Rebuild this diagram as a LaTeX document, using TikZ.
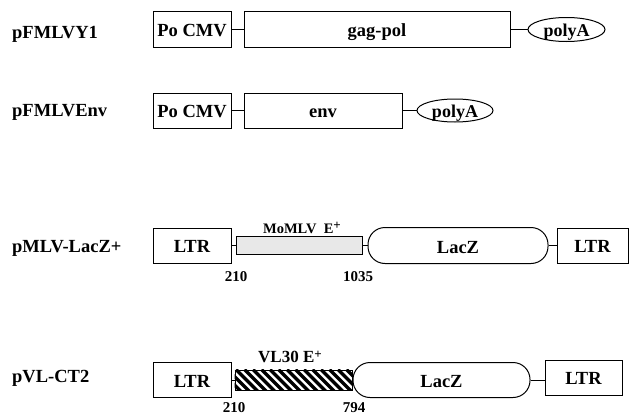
\documentclass[tikz,border=0pt]{standalone}
\usepackage{fontspec}
\setmainfont{Liberation Serif}
\usepackage{tikz}
\usetikzlibrary{shapes.geometric,calc}

\newcommand{\eplus}{E\raisebox{0.5ex}{\fontsize{13}{14}\selectfont+}}

\begin{document}
\begin{tikzpicture}[x=1pt, y=-1pt,
  gbox/.style={draw, line width=1pt, inner sep=0pt, text height=14pt, text depth=0pt,
               font=\fontsize{18.5}{20}\selectfont\bfseries},
  pbox/.style={draw, ellipse, line width=1pt, inner sep=0pt, text height=13pt, text depth=0pt,
               font=\fontsize{18}{20}\selectfont\bfseries},
  lbox/.style={draw, line width=1pt, inner sep=0pt, rounded corners=17pt,
               text height=15pt, text depth=0pt,
               font=\fontsize{18.5}{20}\selectfont\bfseries},
  ebox/.style={draw, line width=1pt, inner sep=0pt},
  lab/.style={anchor=west, inner sep=0pt, font=\fontsize{18.5}{20}\selectfont\bfseries},
  num/.style={inner sep=0pt, font=\fontsize{15}{16}\selectfont\bfseries},
  conn/.style={line width=1pt}
]
\useasboundingbox (0,0) rectangle (629,415);

% pFMLVY1
\node[lab] (lab1) at (12,34) {pFMLVY1};
\node[gbox, minimum width=78pt, minimum height=36pt] (cmv1) at (192,29.5) {Po CMV};
\node[gbox, minimum width=266pt, minimum height=36pt] (gag) at (377,29.5) {gag-pol};
\node[pbox, minimum width=77pt, minimum height=24pt] (pA1) at (566.5,29.5) {polyA};
\draw[conn] (cmv1.east) -- (gag.west);
\draw[conn] (gag.east) -- (pA1.west);

% pFMLVEnv
\node[lab] (lab2) at (12,112) {pFMLVEnv};
\node[gbox, minimum width=78pt, minimum height=35pt] (cmv2) at (192,110.5) {Po CMV};
\node[gbox, minimum width=158pt, minimum height=35pt] (env) at (323,110.5) {env};
\node[pbox, minimum width=76pt, minimum height=23pt] (pA2) at (455,110.5) {polyA};
\draw[conn] (cmv2.east) -- (env.west);
\draw[conn] (env.east) -- (pA2.west);

% pMLV-LacZ+
\node[lab] (lab3) at (12,248) {pMLV-LacZ+};
\node[gbox, minimum width=78pt, minimum height=35pt] (ltr3a) at (192,245.5) {LTR};
\node[ebox, fill=black!9, minimum width=126pt, minimum height=18pt] (mo) at (299,245.5) {};
\node[lbox, minimum width=180pt, minimum height=36pt] (lacz3) at (458,245.5) {LacZ};
\node[gbox, minimum width=71pt, minimum height=35pt] (ltr3b) at (592.5,245.5) {LTR};
\draw[conn] (ltr3a.east) -- (mo.west);
\draw[conn] (mo.east) -- (lacz3.west);
\draw[conn] (lacz3.east) -- (ltr3b.west);
\node[num, font=\fontsize{14.5}{16}\selectfont\bfseries] (moname) at (302,228)
  {MoMLV\ \ \eplus};
\node[num] (mo210) at (236,277) {210};
\node[num] (mo1035) at (358,277) {1035};

% pVL-CT2
\node[lab] (lab4) at (12,378) {pVL-CT2};
\node[gbox, minimum width=78pt, minimum height=35pt] (ltr4a) at (192,380) {LTR};
\node[ebox, minimum width=117pt, minimum height=20pt] (vl) at (293.5,380) {};
\begin{scope}
  \clip (vl.south west) rectangle (vl.north east);
  \foreach \x in {-24,-15.5,...,120}
    \draw[line width=3.5pt] ($(vl.north west)+(\x,0)$) -- ++(22,22);
\end{scope}
\node[ebox, minimum width=117pt, minimum height=20pt] at (vl) {};
\node[lbox, minimum width=177pt, minimum height=35pt] (lacz4) at (441.5,380) {LacZ};
\node[gbox, minimum width=77pt, minimum height=35pt] (ltr4b) at (583.5,377.5) {LTR};
\draw[conn] (ltr4a.east) -- (vl.west);
\draw[conn] (vl.east) -- (lacz4.west);
\draw[conn] (lacz4.east) -- (lacz4.east -| ltr4b.west);
\node[num, font=\fontsize{17}{18}\selectfont\bfseries] (vlname) at (290,357)
  {VL30 \eplus};
\node[num] (vl210) at (234,408) {210};
\node[num] (vl794) at (354,408) {794};
\end{tikzpicture}
\end{document}
